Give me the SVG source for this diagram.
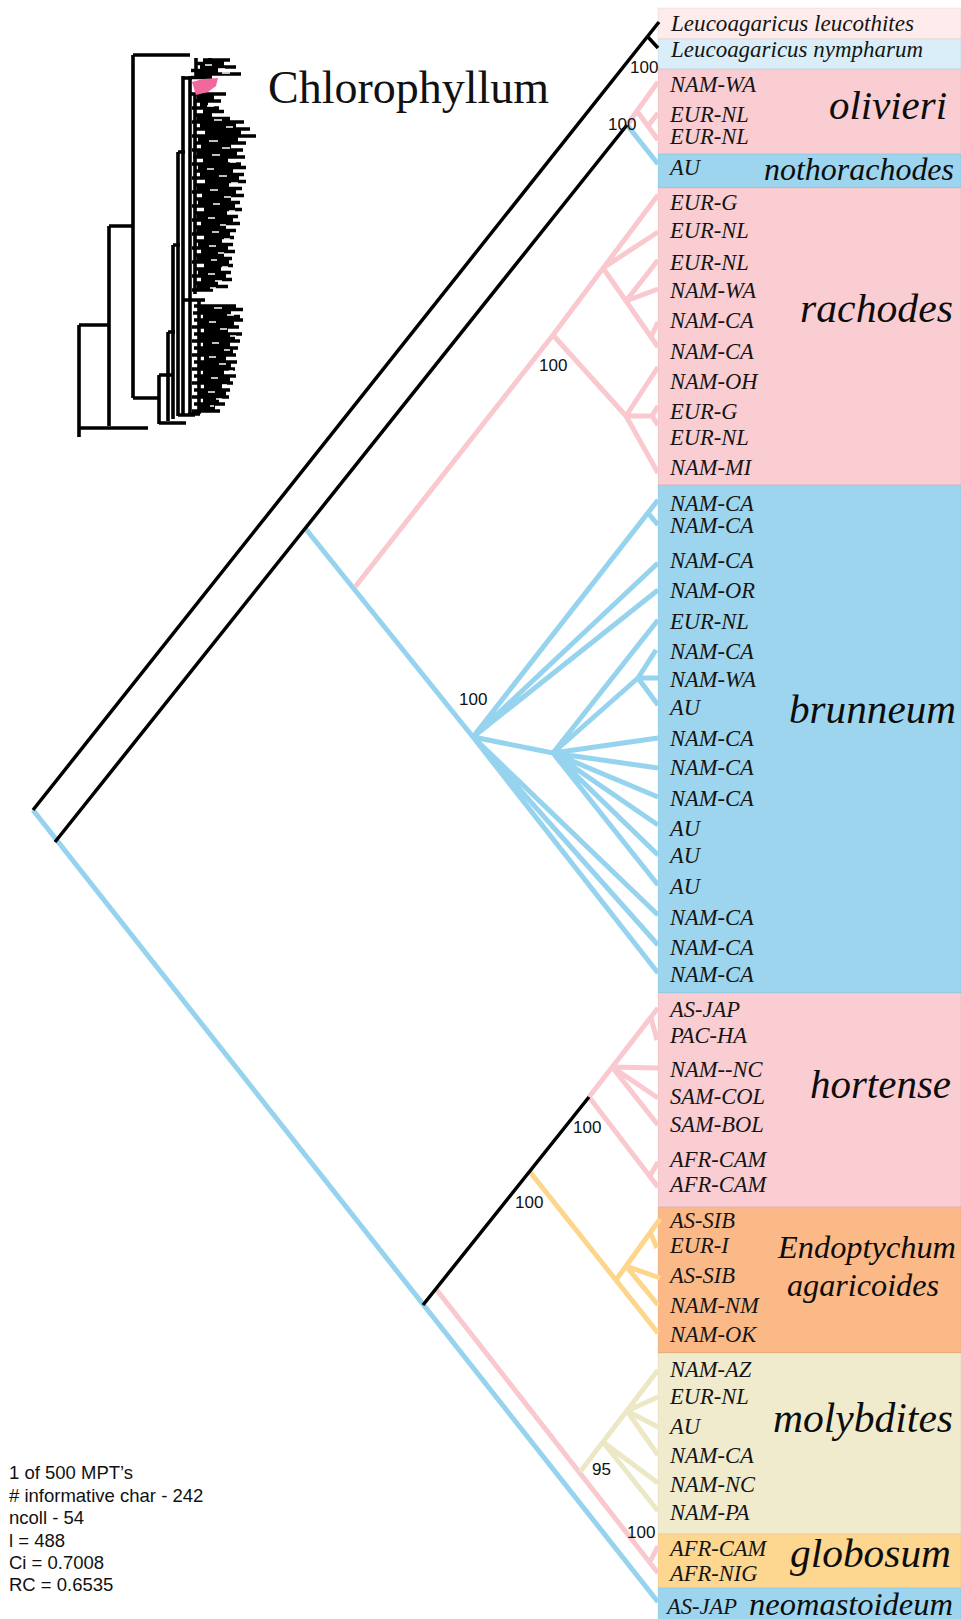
<svg xmlns="http://www.w3.org/2000/svg" width="961" height="1619" viewBox="0 0 961 1619">
<defs>
<style>
.lab{font-family:"Liberation Serif","Times New Roman",serif;font-style:italic;font-size:22.5px;fill:#151515}
.big{font-family:"Liberation Serif","Times New Roman",serif;font-style:italic;fill:#0d0d0d}
.sup{font-family:"Liberation Sans",Arial,sans-serif;font-size:17px;fill:#111}
.st{font-family:"Liberation Sans",Arial,sans-serif;font-size:18.5px;fill:#111}
.box{stroke:#000;stroke-opacity:0.06;stroke-width:1}
.blk{stroke:#000;stroke-width:3.5;fill:none}
.blu{stroke:#96d3ee;stroke-width:5;fill:none}
.pnk{stroke:#f9c9cf;stroke-width:5;fill:none}
.org{stroke:#fdd68c;stroke-width:5;fill:none}
.yel{stroke:#ece8c6;stroke-width:5;fill:none}
.thumb{stroke:#000;fill:none}
.hole{stroke:#fff;fill:none;stroke-width:1.6}
</style>
</defs>
<rect width="961" height="1619" fill="#ffffff"/>

<g id="inset">
<path class="thumb" stroke-width="3.6" d="M79,325V437M79,325H109M79,428H148M109,226V426M109,226H133M133,55V398M133,55H190M133,398H159M159,375V424M159,375H172M159,423H186M168,332V421M173,245V419M178,152V416M183,76V414M183,78H192M168,332H175M173,245H180M178,152H185M183,300H205M178,415H195"/>
<path class="thumb" stroke-width="3.6" d="M203,60H230M196,63.5H224M200,67H236M191,70.5H218M196,74H241M191,77.5H212M196,58V78M210,58V74M191,94H226M197,97.5H214M194,101H221M200,104.5H208M192,108H219M203,111.5H224M194,115H212M197,118.5H230M192,122H244M200,125.5H236M194,129H250M205,132.5H241M192,136H256M198,139.5H238M194,143H246M201,146.5H231M192,150H243M197,153.5H237M193,157H245M203,160.5H228M192,164H241M198,167.5H246M194,171H233M200,174.5H244M192,178H239M205,181.5H246M194,185H229M197,188.5H242M192,192H236M202,195.5H244M194,199H231M198,202.5H240M192,206H235M204,209.5H242M194,213H227M197,216.5H238M192,220H233M201,223.5H240M194,227H226M197,230.5H236M192,234H230M204,237.5H234M194,241H222M198,244.5H233M192,248H228M201,251.5H235M194,255H224M197,258.5H232M192,262H229M204,265.5H233M194,269H221M198,272.5H231M192,276H226M201,279.5H232M194,283H218M197,286.5H228M192,290H213M194,306H236M200,309.5H243M193,313H231M203,316.5H240M194,320H243M198,323.5H234M192,327H239M204,330.5H228M194,334H242M199,337.5H235M192,341H240M203,344.5H230M194,348H238M198,351.5H233M192,355H236M204,358.5H226M194,362H237M199,365.5H231M192,369H235M203,372.5H224M194,376H236M198,379.5H230M192,383H233M204,386.5H222M194,390H230M199,393.5H226M192,397H229M203,400.5H219M194,404H225M198,407.5H215M192,411H220M188,414H200M190,76V415M195,93V294M199,300V414"/>
<path class="hole" d="M207,106H214M214,120H222M226,127H233M209,141H218M222,148H230M212,155H220M230,162H236M207,169H214M219,176H227M231,183H238M210,190H218M224,197H231M213,204H220M229,211H235M208,218H215M220,225H226M212,232H219M224,239H230M209,246H216M218,253H224M211,260H217M222,267H228M208,274H215M215,281H222M210,288H216M214,308H222M227,315H234M209,322H216M220,329H227M230,336H236M212,343H219M224,350H230M209,357H216M219,364H226M229,371H233M211,378H218M222,385H227M208,392H215M216,399H222M210,406H214M205,65H212M218,69H225M222,73H230"/>
<path d="M192,82L203,79L218,78L216,86L208,92L196,95Z" fill="#f0689c"/>
<text x="268" y="103" font-family="'Liberation Serif','Times New Roman',serif" font-size="46" fill="#111">Chlorophyllum</text>
</g>

<g id="clade-leucothites">
<rect class="box" x="658" y="8" width="303" height="31" fill="#fdeceb"/>
<text class="lab" x="671" y="31" textLength="243" lengthAdjust="spacingAndGlyphs">Leucoagaricus leucothites</text>
</g>
<g id="clade-nympharum">
<rect class="box" x="658" y="39" width="303" height="30" fill="#d9eef8"/>
<text class="lab" x="671" y="57" textLength="252" lengthAdjust="spacingAndGlyphs">Leucoagaricus nympharum</text>
</g>
<g id="clade-olivieri">
<rect class="box" x="658" y="69" width="303" height="85" fill="#f9cdd2"/>
<text class="lab" x="670" y="92">NAM-WA</text>
<text class="lab" x="670" y="122">EUR-NL</text>
<text class="lab" x="670" y="144">EUR-NL</text>
<text class="big" x="829" y="119" font-size="40" textLength="118" lengthAdjust="spacingAndGlyphs">olivieri</text>
</g>
<g id="clade-nothorachodes">
<rect class="box" x="658" y="154" width="303" height="34" fill="#9dd5ef"/>
<text class="lab" x="670" y="175">AU</text>
<text class="big" x="764" y="180" font-size="32" textLength="190" lengthAdjust="spacingAndGlyphs">nothorachodes</text>
</g>
<g id="clade-rachodes">
<rect class="box" x="658" y="188" width="303" height="297" fill="#f9cdd2"/>
<text class="lab" x="670" y="210">EUR-G</text>
<text class="lab" x="670" y="238">EUR-NL</text>
<text class="lab" x="670" y="270">EUR-NL</text>
<text class="lab" x="670" y="298">NAM-WA</text>
<text class="lab" x="670" y="328">NAM-CA</text>
<text class="lab" x="670" y="359">NAM-CA</text>
<text class="lab" x="670" y="389">NAM-OH</text>
<text class="lab" x="670" y="419">EUR-G</text>
<text class="lab" x="670" y="445">EUR-NL</text>
<text class="lab" x="670" y="475">NAM-MI</text>
<text class="big" x="800" y="322" font-size="41" textLength="153" lengthAdjust="spacingAndGlyphs">rachodes</text>
</g>
<g id="clade-brunneum">
<rect class="box" x="658" y="485" width="303" height="508" fill="#9dd5ef"/>
<text class="lab" x="670" y="511">NAM-CA</text>
<text class="lab" x="670" y="533">NAM-CA</text>
<text class="lab" x="670" y="568">NAM-CA</text>
<text class="lab" x="670" y="598">NAM-OR</text>
<text class="lab" x="670" y="629">EUR-NL</text>
<text class="lab" x="670" y="659">NAM-CA</text>
<text class="lab" x="670" y="687">NAM-WA</text>
<text class="lab" x="670" y="715">AU</text>
<text class="lab" x="670" y="746">NAM-CA</text>
<text class="lab" x="670" y="775">NAM-CA</text>
<text class="lab" x="670" y="806">NAM-CA</text>
<text class="lab" x="670" y="836">AU</text>
<text class="lab" x="670" y="863">AU</text>
<text class="lab" x="670" y="894">AU</text>
<text class="lab" x="670" y="925">NAM-CA</text>
<text class="lab" x="670" y="955">NAM-CA</text>
<text class="lab" x="670" y="982">NAM-CA</text>
<text class="big" x="789" y="723" font-size="41" textLength="167" lengthAdjust="spacingAndGlyphs">brunneum</text>
</g>
<g id="clade-hortense">
<rect class="box" x="658" y="993" width="303" height="214" fill="#f9cdd2"/>
<text class="lab" x="670" y="1017">AS-JAP</text>
<text class="lab" x="670" y="1043">PAC-HA</text>
<text class="lab" x="670" y="1077">NAM--NC</text>
<text class="lab" x="670" y="1104">SAM-COL</text>
<text class="lab" x="670" y="1132">SAM-BOL</text>
<text class="lab" x="670" y="1167">AFR-CAM</text>
<text class="lab" x="670" y="1192">AFR-CAM</text>
<text class="big" x="810" y="1098" font-size="41" textLength="141" lengthAdjust="spacingAndGlyphs">hortense</text>
</g>
<g id="clade-endoptychum">
<rect class="box" x="658" y="1207" width="303" height="146" fill="#fbb987"/>
<text class="lab" x="670" y="1228">AS-SIB</text>
<text class="lab" x="670" y="1253">EUR-I</text>
<text class="lab" x="670" y="1283">AS-SIB</text>
<text class="lab" x="670" y="1313">NAM-NM</text>
<text class="lab" x="670" y="1342">NAM-OK</text>
<text class="big" x="778" y="1258" font-size="32.4" textLength="178" lengthAdjust="spacingAndGlyphs">Endoptychum</text>
<text class="big" x="787" y="1296" font-size="32.4" textLength="152" lengthAdjust="spacingAndGlyphs">agaricoides</text>
</g>
<g id="clade-molybdites">
<rect class="box" x="658" y="1353" width="303" height="181" fill="#f1ebcd"/>
<text class="lab" x="670" y="1377">NAM-AZ</text>
<text class="lab" x="670" y="1404">EUR-NL</text>
<text class="lab" x="670" y="1434">AU</text>
<text class="lab" x="670" y="1463">NAM-CA</text>
<text class="lab" x="670" y="1492">NAM-NC</text>
<text class="lab" x="670" y="1520">NAM-PA</text>
<text class="big" x="773" y="1432" font-size="41.5" textLength="180" lengthAdjust="spacingAndGlyphs">molybdites</text>
</g>
<g id="clade-globosum">
<rect class="box" x="658" y="1534" width="303" height="54" fill="#fdd690"/>
<text class="lab" x="670" y="1556">AFR-CAM</text>
<text class="lab" x="670" y="1581">AFR-NIG</text>
<text class="big" x="790" y="1567" font-size="41" textLength="161" lengthAdjust="spacingAndGlyphs">globosum</text>
</g>
<g id="clade-neomastoideum">
<rect class="box" x="658" y="1588" width="303" height="32" fill="#9dd5ef"/>
<text class="lab" x="667" y="1614">AS-JAP</text>
<text class="big" x="749" y="1615" font-size="32.5" textLength="204" lengthAdjust="spacingAndGlyphs">neomastoideum</text>
</g>

<g id="connectors">
<path class="blu" d="M33,810L658,1602M627,125L658,164M305,528L473,737M473,737L658,500M648,513L658,525M473,737L658,563M473,737L658,590M473,737L553,753M473,737L658,915M473,737L658,945M473,737L658,973M553,753L658,620M553,753L638,678M638,678L656,650M638,678L658,678M638,678L658,705M553,753L658,738M553,753L658,768M553,753L658,797M553,753L658,825M553,753L658,855M553,753L658,885"/>
<path class="pnk" d="M627,125L637,111M637,111L658,82M637,111L658,140M648,126L658,113M355,587L553,335M553,335L658,195M553,335L626,416L658,473M603,268L658,347M603,268L658,232M626,301L658,260M626,301L658,289M651,337L658,322M626,416L658,367M626,416L652,416M652,416L658,406M652,416L658,425M589,1097L658,1008M651,1018L657,1040M612,1067L658,1068M612,1067L658,1098M612,1067L658,1125M589,1097L658,1187M650,1176L658,1162M436,1289L658,1573M650,1562L658,1546"/>
<path class="org" d="M530,1172L658,1333M616,1280L660,1219M650,1232L657,1248M626,1266L660,1278M626,1266L658,1305"/>
<path class="yel" d="M580,1472L658,1370M603,1442L658,1511M603,1442L658,1483M627,1411L658,1397M627,1411L658,1427M627,1411L658,1455"/>
<path class="blk" d="M33,810L659,22M648,37L658,48M55,842L627,125M423,1305L589,1097"/>
</g>

<g id="support">
<text class="sup" x="630" y="73">100</text>
<text class="sup" x="608" y="130">100</text>
<text class="sup" x="539" y="371">100</text>
<text class="sup" x="459" y="705">100</text>
<text class="sup" x="573" y="1133">100</text>
<text class="sup" x="515" y="1208">100</text>
<text class="sup" x="592" y="1475">95</text>
<text class="sup" x="627" y="1538">100</text>
</g>

<g id="stats">
<text class="st" x="9" y="1479">1 of 500 MPT’s</text>
<text class="st" x="9" y="1502"># informative char - 242</text>
<text class="st" x="9" y="1524">ncoll - 54</text>
<text class="st" x="9" y="1547">l = 488</text>
<text class="st" x="9" y="1569">Ci = 0.7008</text>
<text class="st" x="9" y="1591">RC = 0.6535</text>
</g>
</svg>
